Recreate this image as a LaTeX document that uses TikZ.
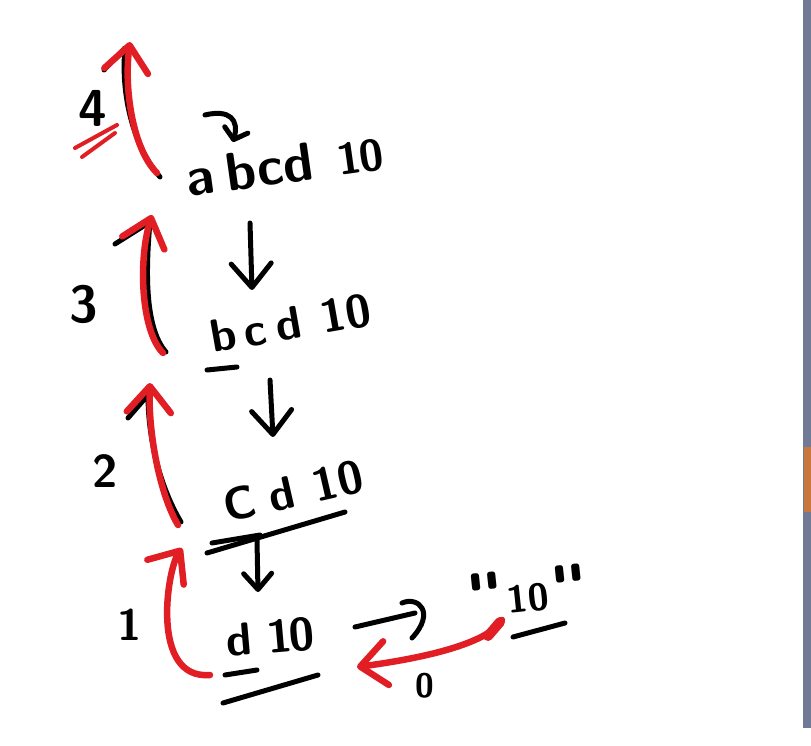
\documentclass[tikz,border=0pt]{standalone}
\usepackage{fontspec}
\usetikzlibrary{arrows.meta}
\definecolor{penred}{RGB}{224,30,36}
\definecolor{edgeblue}{RGB}{112,122,150}
\definecolor{edgeorange}{RGB}{200,120,60}
\newcommand{\handfont}[1]{\fontsize{#1}{#1}\selectfont}
\newcommand{\qmark}{\raisebox{0pt}{\handfont{60}\XeTeXglyph\XeTeXglyphindex "quotedbl"\relax}}
\tikzset{
  ink/.style={line width=5pt, line cap=round, line join=round},
  redink/.style={ink, draw=penred, line width=6.5pt},
  hand/.style={inner sep=0pt, font=\sffamily\bfseries},
  redtip/.style={-{Straight Barb[length=26pt,width=44pt,round]}},
  downtip/.style={-{Straight Barb[length=24pt,width=40pt,round]}},
  smalltip/.style={-{Straight Barb[length=16pt,width=28pt,round]}}
}

\begin{document}
\begin{tikzpicture}[x=1pt,y=-1pt]
\useasboundingbox (0,0) rectangle (811,746);
\fill[white] (0,0) rectangle (811,746);
% edge of the screen
\fill[edgeblue] (803,0) rectangle (811,728);
\fill[edgeorange] (804,447) rectangle (811,512);

% the strings
\node[hand,anchor=base west,rotate=8] (abcd) at (188,197) {\handfont{54}a\kern12pt bcd\kern24pt{\handfont{44}1\kern-2pt 0}};
\node[hand,anchor=base west,rotate=10] (bcd) at (213,353) {\handfont{46}b\kern8pt c\kern10pt d\kern20pt 10};
\node[hand,anchor=base west,rotate=13] (cd) at (227,523) {\handfont{46}C\kern14pt d\kern20pt 10};
\node[hand,anchor=base west,rotate=5] (dten) at (227,657) {\handfont{46}d\kern16pt 1\kern-4pt 0};
\node[hand,anchor=base west,rotate=6] (qten) at (470,618) {\handfont{38}\qmark\kern4pt 10\kern4pt\qmark};

% counts
\node[hand] (four) at (93,108) {\handfont{52}4};
\node[hand] (three) at (84,304) {\handfont{52}3};
\node[hand] (two) at (105,471) {\handfont{46}2};
\node[hand] (one) at (130,625) {\handfont{44}1};
\node[hand] (zero) at (425,686) {\handfont{34}0};
\coordinate (top) at (130,42);

% black pen
\draw[ink,-{Straight Barb[length=10pt,width=24pt,round]}] ([shift={(17,-82)}]abcd.base west) .. controls +(25,-6) and +(6,-22) .. ([shift={(45,-55)}]abcd.base west);
\draw[ink,downtip] ([shift={(62,26)}]abcd.base west) -- ([shift={(39,-63)}]bcd.base west);
\draw[ink,downtip] ([shift={(57,27)}]bcd.base west) -- ([shift={(46,-86)}]cd.base west);
\draw[ink,smalltip] ([shift={(30,17)}]cd.base west) -- ([shift={(31,-65)}]dten.base west);
\draw[ink] ([shift={(128,-30)}]dten.base west) -- ([shift={(-55,-5)}]qten.base west);
\draw[ink] ([shift={(-68,-15)}]qten.base west) .. controls +(16,-7) and +(24,-26) .. ([shift={(-58,20)}]qten.base west);
\draw[ink] ([shift={(-6,17)}]bcd.base west) -- ([shift={(24,14)}]bcd.base west);
\draw[ink] ([shift={(-20,30)}]cd.base west) -- ([shift={(118,-11)}]cd.base west);
\draw[ink] ([shift={(-15,20)}]cd.base west) -- ([shift={(33,12)}]cd.base west);
\draw[ink] ([shift={(-2,18)}]dten.base west) -- ([shift={(30,13)}]dten.base west);
\draw[ink] ([shift={(-4,46)}]dten.base west) -- ([shift={(91,18)}]dten.base west);
\draw[ink] ([shift={(43,19)}]qten.base west) -- ([shift={(95,5)}]qten.base west);
% black arrows under the red ones
\draw[ink] ([shift={(-28,-20)}]abcd.base west) .. controls +(-30,-35) and +(-4,40) .. ([shift={(-5,6)}]top) -- ++(-21,22);
\draw[ink] ([shift={(-47,-1)}]bcd.base west) .. controls +(-22,-25) and +(-4,45) .. ([shift={(-38,25)}]abcd.base west) -- ++(-35,22);
\draw[ink] ([shift={(-46,-1)}]cd.base west) .. controls +(-18,-30) and +(0,50) .. ([shift={(-65,42)}]bcd.base west) -- ++(-20,23);

% red pen
\draw[redink,redtip] ([shift={(-31,-24)}]abcd.base west) .. controls +(-25,-25) and +(-6,45) .. (top);
\draw[redink,redtip] ([shift={(-50,0)}]bcd.base west) .. controls +(-22,-22) and +(-14,45) .. ([shift={(-36,18)}]abcd.base west);
\draw[redink,redtip] ([shift={(-49,2)}]cd.base west) .. controls +(-18,-30) and +(-2,50) .. ([shift={(-63,30)}]bcd.base west);
\draw[redink,redtip] ([shift={(-17,18)}]dten.base west) .. controls +(-60,5) and +(-15,22) .. ([shift={(-45,25)}]cd.base west);
\draw[redink,redtip] ([shift={(32,2)}]qten.base west) .. controls +(-15,25) and +(60,-8) .. ([shift={(130,10)}]dten.base west);
\draw[redink,line width=10pt] ([shift={(30,4)}]qten.base west) -- ([shift={(18,18)}]qten.base west);
\draw[redink,line width=4pt] ([shift={(-18,40)}]four.center) -- ([shift={(24,17)}]four.center);
\draw[redink,line width=4pt] ([shift={(-11,49)}]four.center) -- ([shift={(22,25)}]four.center);
\end{tikzpicture}
\end{document}
